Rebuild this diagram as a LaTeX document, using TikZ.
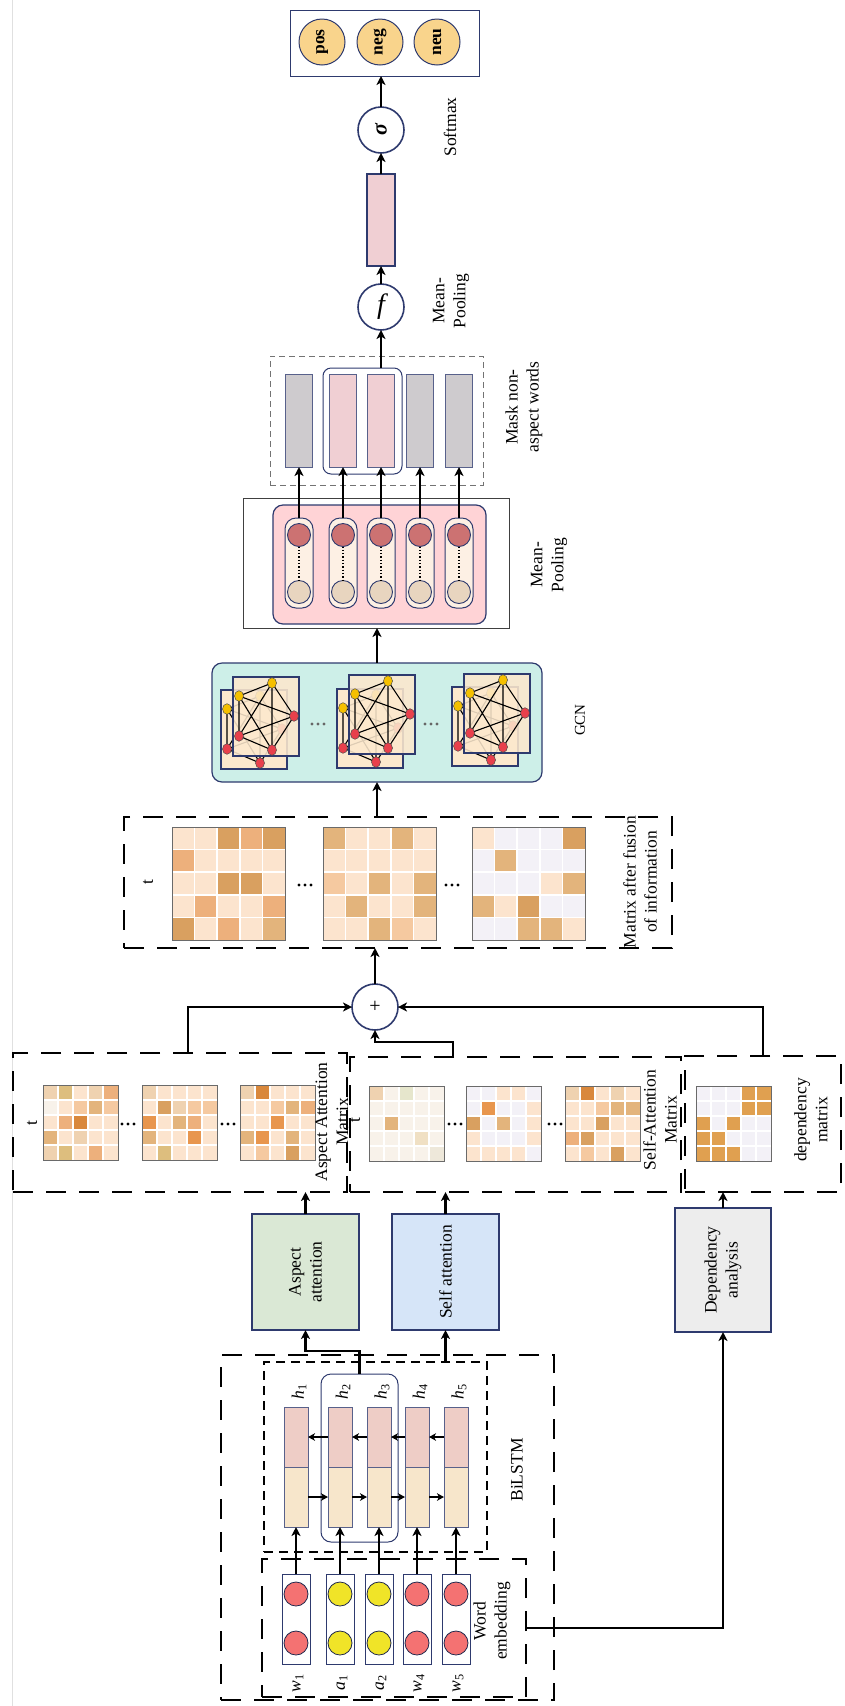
\documentclass[tikz,border=0pt]{standalone}
\usepackage{fontspec}
\setmainfont{Liberation Serif}
\usetikzlibrary{arrows.meta,calc}
\definecolor{navy}{HTML}{2E3A6E}
\definecolor{outc}{HTML}{F9D48C}
\definecolor{pinkr}{HTML}{F0CFD3}
\definecolor{maskg}{HTML}{CECBCE}
\definecolor{mppink}{HTML}{FFD3D6}
\definecolor{capf}{HTML}{FDF0E4}
\definecolor{capr}{HTML}{CC7272}
\definecolor{capb}{HTML}{E8D5BF}
\definecolor{gcnf}{HTML}{CDEFE8}
\definecolor{panelf}{HTML}{FCE8CD}
\definecolor{gyel}{HTML}{F5C000}
\definecolor{gred}{HTML}{E8404C}
\definecolor{aaf}{HTML}{DAE8D5}
\definecolor{saf}{HTML}{D6E5F8}
\definecolor{daf}{HTML}{EDEDED}
\definecolor{lstmt}{HTML}{EECDC6}
\definecolor{lstmb}{HTML}{F7E6CB}
\definecolor{ewr}{HTML}{F47272}
\definecolor{ewy}{HTML}{F0E428}
\definecolor{matb}{HTML}{6A6A6A}
\definecolor{mxa}{HTML}{FCE4CE}
\definecolor{mxb}{HTML}{F5C9A0}
\definecolor{mxc}{HTML}{EDB07C}
\definecolor{mxd}{HTML}{E3B47C}
\definecolor{mxe}{HTML}{D9A060}
\definecolor{mxf}{HTML}{E8964E}
\definecolor{mxg}{HTML}{D9883C}
\definecolor{mxh}{HTML}{DDBE7E}
\definecolor{mxi}{HTML}{F3F1F7}
\definecolor{mxj}{HTML}{F8F2EA}
\definecolor{mxk}{HTML}{EFD2B0}
\definecolor{mxl}{HTML}{E6E6CC}
\definecolor{mxm}{HTML}{F0E0C4}
\definecolor{mxn}{HTML}{EEE8DA}
\definecolor{mxo}{HTML}{E0A050}

\tikzset{
  every node/.style={inner sep=0pt,outer sep=0pt},
  sz/.style 2 args={minimum width=#1pt,minimum height=#2pt},
  arr/.style={line width=2.6pt,-{Stealth[length=9pt,width=9pt,inset=2.5pt]}},
  arrs/.style={line width=2.2pt,-{Stealth[length=7pt,width=7.5pt,inset=2pt]}},
  bigdash/.style={draw=black,line width=2.6pt,dash pattern=on 20pt off 13pt},
  thindash/.style={draw=black,line width=1.3pt,dash pattern=on 9pt off 6pt},
  graydash/.style={draw=black!55,line width=1pt,dash pattern=on 6pt off 4pt},
  lbl/.style={rotate=90,font=\fontsize{17.5}{21}\selectfont,align=center},
  nbox/.style={draw=navy,line width=1.2pt},
  ring/.style={circle,minimum size=46pt,draw=navy,line width=1.6pt,fill=white},
}

\newcommand{\mymat}[4]{%
  \foreach \mcolor [count=\mk from 0] in {#4} {%
    \pgfmathtruncatemacro{\mrow}{floor(\mk/5)}%
    \pgfmathtruncatemacro{\mcol}{\mk-5*\mrow}%
    \fill[fill=mx\mcolor] ({#1+\mcol*#3},{#2+\mrow*#3}) rectangle ++(#3,#3);
  }
  \foreach \mi in {1,...,4} {
    \draw[white,line width=1.5pt] ({#1+\mi*#3},#2) -- ++(0,{5*#3});
    \draw[white,line width=1.5pt] (#1,{#2+\mi*#3}) -- ++({5*#3},0);
  }
  \draw[matb,line width=1pt] (#1,#2) rectangle ++({5*#3},{5*#3});
}
\newcommand{\gpanel}[3]{%
  \begin{scope}[shift={(#1,#2)}]
    \fill[panelf,fill opacity=#3] (0,0) rectangle (66,79);
    \draw[navy,line width=1.2pt] (0,0) rectangle (66,79);
    \draw[line width=1.1pt] (39,6) -- (6,19) -- (61,39) -- (6,59) -- (39,73) -- cycle;
    \draw[line width=1.1pt] (39,6) -- (61,39) -- (39,73) -- (6,19) -- (6,59) -- cycle;
    \foreach \px/\py/\pc in {39/6/gyel,6/19/gyel,61/39/gred,6/59/gred,39/73/gred}
      \filldraw[fill=\pc,draw=black!70,line width=0.5pt] (\px,\py) ellipse [x radius=4.5,y radius=5.3];
  \end{scope}
}
\newcommand{\tdots}[3]{\foreach \dd in {-6,0,6} \fill[#3] ({#1+\dd},#2) circle[radius=1.6];}

\begin{document}
\begin{tikzpicture}[x=1pt,y=-1pt]
\useasboundingbox (0,0) rectangle (844,1706);
\draw[black!12,line width=0.8pt] (12.5,0) -- (12.5,1706);

% ---------- output ----------
\node[sz={189}{66},draw=navy,line width=1pt] (outbox) at (384.5,43) {};
\foreach \x/\tx/\nm in {322/pos/opos,380/neg/oneg,437/neu/oneu}
  \node[circle,minimum size=46pt,fill=outc,draw=navy,line width=1pt,rotate=90,font=\fontsize{17.5}{21}\selectfont\bfseries] (\nm) at (\x,42) {\tx};
\node[ring] (sig) at (381,130) {};
\node[rotate=90,font=\fontsize{22}{22}\selectfont\bfseries\itshape] (sigt) at (sig.center) {σ};
\node[lbl] (lsoft) at (450,127) {Softmax};
\node[sz={28}{92},fill=pinkr,nbox] (prect) at (381,220) {};
\node[ring] (fc) at (381,307) {};
\node[font=\fontsize{28}{28}\selectfont\itshape] (ft) at (fc.center) {f};
\node[lbl] (lmp1) at (451,301) {Mean-\\Pooling};
\draw[arr] (sig.north) -- (sig.north |- outbox.south);
\draw[arr] (prect.north) -- (sig.south);
\draw[arr] (fc.north) -- (prect.south);

% ---------- mask ----------
\node[sz={213}{129},graydash] (maskbox) at (376.5,420.5) {};
\node[sz={79}{106},draw=navy,line width=1pt,rounded corners=8pt] (mround) at (362.5,421) {};
\foreach \x/\c [count=\i] in {299/maskg,343/pinkr,381/pinkr,420/maskg,459/maskg}
  \node[sz={27}{93},fill=\c,draw=navy!80,line width=1pt] (mb\i) at (\x,420.5) {};
\node[lbl] (lmask) at (524,407) {Mask non-\\aspect words};
\draw[arr] (fc.south |- mround.north) -- (fc.south);

% ---------- mean pooling ----------
\node[sz={266}{130},draw=black!75,line width=1pt] (mpout) at (376,563) {};
\node[sz={213}{119},fill=mppink,nbox,rounded corners=10pt] (mpin) at (379.5,564.5) {};
\foreach \x [count=\i] in {299,343,381,420,459} {
  \node[sz={28}{90},fill=capf,draw=navy,line width=1pt,rounded corners=11pt] (cap\i) at (\x,563) {};
  \node[circle,minimum size=23pt,fill=capr,draw=navy,line width=0.9pt] (ct\i) at (\x,535) {};
  \node[circle,minimum size=23pt,fill=capb,draw=navy,line width=0.9pt] (cb\i) at (\x,592) {};
  \draw[dotted,line width=1.3pt] (ct\i.south) -- (cb\i.north);
  \draw[arr] (cap\i.north) -- (mb\i.south);
}
\node[lbl] (lmp2) at (549,565) {Mean-\\Pooling};

% ---------- GCN ----------
\node[sz={330}{119},fill=gcnf,nbox,rounded corners=10pt] (gcn) at (377,722.5) {};
\draw[arr] (gcn.north) -- (gcn.north |- mpout.south);
\gpanel{221}{690}{1}\gpanel{233}{677}{0.88}
\gpanel{337}{689}{1}\gpanel{349}{675}{0.88}
\gpanel{452}{687}{1}\gpanel{464}{674}{0.88}
\tdots{318}{724}{black!60}\tdots{431}{724}{black!60}
\node[rotate=90,font=\fontsize{15}{17}\selectfont] (lgcn) at (580,720) {GCN};

% ---------- fusion ----------
\node[sz={548}{131},bigdash] (fus) at (398,882.5) {};
\mymat{172}{827}{22.6}{a,a,e,c,e, c,a,a,a,a, a,a,e,e,a, a,c,a,a,c, e,a,c,a,d}
\mymat{323}{827}{22.6}{d,a,a,d,a, a,a,a,a,a, b,a,d,a,d, a,d,a,a,d, a,a,d,b,a}
\mymat{472}{827}{22.6}{a,i,i,i,e, i,d,i,i,i, i,i,i,a,d, d,a,e,i,i, i,i,d,d,a}
\tdots{305}{885}{black}\tdots{452}{885}{black}
\node[lbl] (lt1) at (148,882) {t};
\node[lbl] (lfus) at (640,882) {Matrix after fusion\\of information};
\draw[arr] (gcn.south |- fus.north) -- (gcn.south);

% ---------- plus ----------
\node[ring] (plus) at (375,1007) {};
\node[font=\fontsize{20}{20}\selectfont] (plust) at (plus.center) {+};
\draw[arr] (plus.north) -- (plus.north |- fus.south);

% ---------- attention matrices ----------
\node[sz={334}{139},bigdash] (amat) at (180,1122.5) {};
\node[sz={331}{135},bigdash] (samat) at (515.5,1124.5) {};
\node[sz={156}{136},bigdash] (depm) at (763,1124) {};
\mymat{43}{1085}{15}{k,h,a,k,c, j,a,b,d,b, a,c,g,a,a, d,a,k,a,a, k,h,a,c,a}
\mymat{142}{1085}{15}{k,a,a,a,a, a,e,k,b,b, f,a,d,c,a, d,a,a,f,a, a,h,a,a,a}
\mymat{240}{1085}{15}{k,g,a,a,a, a,a,b,d,c, a,a,f,a,a, d,f,a,d,a, a,b,a,e,a}
\mymat{369}{1086}{15}{k,j,l,j,j, j,j,j,j,j, j,d,j,j,j, j,j,j,m,j, j,j,j,j,n}
\mymat{466}{1086}{15}{i,i,a,a,i, i,f,i,i,a, e,i,d,i,a, a,i,i,i,a, a,a,a,a,i}
\mymat{565}{1086}{15}{k,g,a,k,a, a,a,b,d,d, a,a,e,a,a, c,e,a,a,a, a,b,a,e,a}
\mymat{696}{1086}{15}{i,i,i,o,o, i,i,i,o,o, o,i,o,i,i, o,o,i,i,i, o,o,o,i,i}
\tdots{128}{1124}{black}\tdots{228}{1124}{black}
\tdots{455}{1124}{black}\tdots{555}{1124}{black}
\node[lbl] (lt2) at (32,1123) {t};
\node[lbl] (lt3) at (355,1120) {t};
\node[lbl] (lam) at (332,1122) {Aspect Attention\\Matrix};
\node[lbl] (lsm) at (660,1120) {Self-Attention\\Matrix};
\node[lbl] (ldm) at (811,1120) {dependency\\matrix};
\draw[arr] ($(amat.north west)!0.524!(amat.north east)$) |- (plus.west);
\draw[arr] ($(samat.north west)!0.311!(samat.north east)$) -- ++(0,-15) -| (plus.south);
\draw[arr] (depm.north) |- (plus.east);

% ---------- attention boxes ----------
\node[sz={107}{116},fill=aaf,nbox] (aa) at (305.5,1272) {};
\node[lbl] (laa) at (aa.center) {Aspect\\attention};
\node[sz={107}{116},fill=saf,nbox] (sab) at (445.5,1272) {};
\node[lbl] (lsa) at (sab.center) {Self attention};
\node[sz={96}{124},fill=daf,nbox] (da) at (723,1270) {};
\node[lbl] (lda) at (da.center) {Dependency\\analysis};
\draw[arr] (aa.north) -- (aa.north |- amat.south);
\draw[arr] (sab.north) -- (sab.north |- samat.south);
\draw[arr] (da.north) -- (da.north |- depm.south);

% ---------- BiLSTM / embedding ----------
\node[sz={333}{345},bigdash] (outer) at (387.5,1527.5) {};
\node[sz={223}{190},thindash] (bil) at (375.5,1457) {};
\node[sz={264}{138},bigdash] (we) at (394,1628) {};
\node[sz={77}{168},draw=navy,line width=1pt,rounded corners=10pt] (hround) at (359.5,1458) {};
\foreach \x/\lt/\ln/\c [count=\i] in {296/w/1/ewr,340/a/1/ewy,379/a/2/ewy,417/w/4/ewr,456/w/5/ewr} {
  \node[sz={24}{60},fill=lstmt,draw=navy!80,line width=0.9pt] (bt\i) at (\x,1437) {};
  \node[sz={24}{60},fill=lstmb,draw=navy!80,line width=0.9pt] (bb\i) at (\x,1497) {};
  \node[lbl] (hl\i) at ({\x+3},1392) {\textit{h}\textsubscript{\i}};
  \node[sz={28}{90},fill=white,draw=navy,line width=1pt] (em\i) at (\x,1619) {};
  \node[circle,minimum size=24pt,fill=\c,draw=navy!70!black,line width=0.8pt] (ea\i) at (\x,1594) {};
  \node[circle,minimum size=24pt,fill=\c,draw=navy!70!black,line width=0.8pt] (eb\i) at (\x,1643) {};
  \node[lbl] (wl\i) at ({\x+2},1683) {\textit{\lt}\textsubscript{\ln}};
  \draw[arr] (em\i.north) -- (bb\i.south);
}
\foreach \i/\j in {1/2,2/3,3/4,4/5} {
  \draw[arrs] (bt\j.west) -- (bt\i.east);
  \draw[arrs] (bb\i.east) -- (bb\j.west);
}
\node[lbl] (lbil) at (517,1470) {BiLSTM};
\node[lbl] (lwe) at (492,1621) {Word\\embedding};
\draw[arr] (hround.north) -- ++(0,-23) -| (aa.south);
\draw[arr] (sab.south |- bil.north) -- (sab.south);
\draw[arr] (we.east) -| (da.south);
\end{tikzpicture}
\end{document}
